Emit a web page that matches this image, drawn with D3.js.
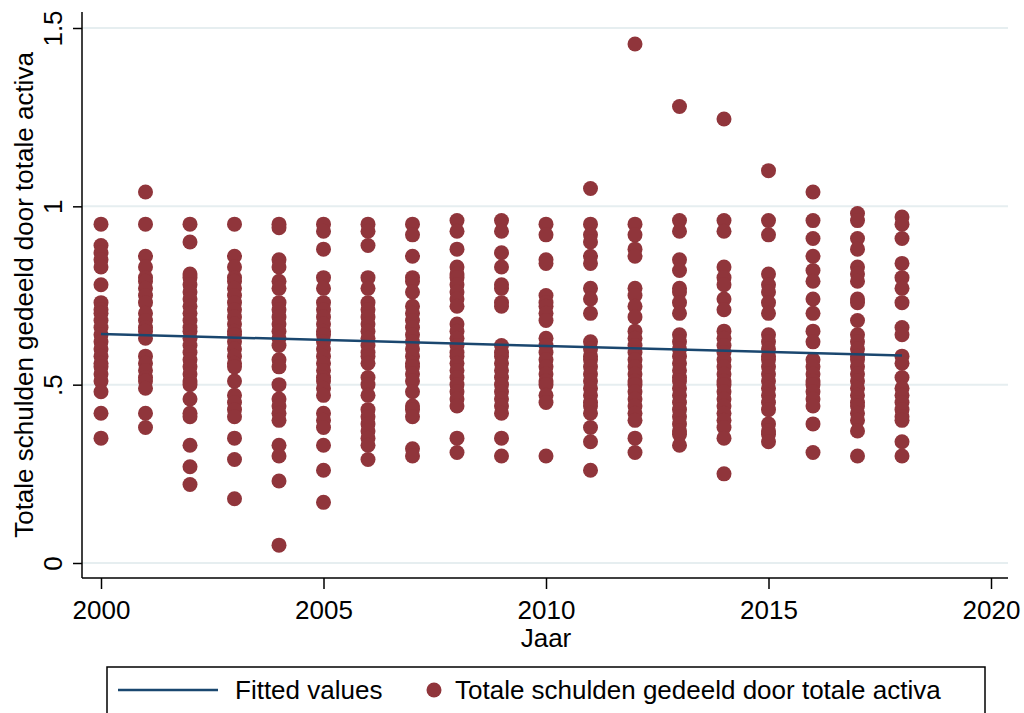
<!DOCTYPE html>
<html>
<head>
<meta charset="utf-8">
<script src="https://cdn.jsdelivr.net/npm/d3@7"></script>
<style>
  html, body { margin: 0; padding: 0; background: #fff; }
  svg { display: block; font-family: "Liberation Sans", Arial, sans-serif; }
</style>
</head>
<body>
<svg id="chart" width="1024" height="713"></svg>
<script>
// Firm-level debt ratio (total debt / total assets) per year
const years = [2000, 2001, 2002, 2003, 2004, 2005, 2006, 2007, 2008, 2009,
               2010, 2011, 2012, 2013, 2014, 2015, 2016, 2017, 2018];

const ratioByYear = [
  [0.95, 0.89, 0.87, 0.85, 0.83, 0.78, 0.73, 0.71, 0.70, 0.68, 0.66, 0.64, 0.62, 0.60, 0.58, 0.56, 0.55, 0.53, 0.51, 0.48, 0.42, 0.35],
  [1.04, 0.95, 0.86, 0.83, 0.80, 0.79, 0.77, 0.75, 0.73, 0.70, 0.68, 0.66, 0.65, 0.63, 0.58, 0.56, 0.54, 0.52, 0.51, 0.49, 0.42, 0.38],
  [0.95, 0.90, 0.81, 0.80, 0.78, 0.76, 0.74, 0.72, 0.70, 0.68, 0.66, 0.65, 0.63, 0.61, 0.59, 0.57, 0.55, 0.53, 0.51, 0.50, 0.46, 0.42, 0.41, 0.33, 0.27, 0.22],
  [0.95, 0.86, 0.83, 0.80, 0.79, 0.77, 0.75, 0.73, 0.71, 0.69, 0.67, 0.65, 0.64, 0.62, 0.60, 0.58, 0.56, 0.55, 0.51, 0.47, 0.45, 0.43, 0.41, 0.35, 0.29, 0.18],
  [0.95, 0.94, 0.85, 0.83, 0.79, 0.77, 0.73, 0.71, 0.69, 0.67, 0.65, 0.63, 0.61, 0.57, 0.55, 0.50, 0.46, 0.44, 0.42, 0.40, 0.33, 0.30, 0.23, 0.05],
  [0.95, 0.93, 0.88, 0.80, 0.77, 0.73, 0.71, 0.69, 0.67, 0.65, 0.64, 0.62, 0.60, 0.58, 0.56, 0.54, 0.52, 0.51, 0.49, 0.47, 0.42, 0.40, 0.38, 0.33, 0.26, 0.17],
  [0.95, 0.93, 0.89, 0.80, 0.77, 0.73, 0.71, 0.69, 0.67, 0.65, 0.63, 0.61, 0.59, 0.58, 0.56, 0.52, 0.50, 0.47, 0.43, 0.41, 0.39, 0.37, 0.35, 0.33, 0.29],
  [0.95, 0.92, 0.86, 0.80, 0.79, 0.76, 0.72, 0.70, 0.68, 0.66, 0.64, 0.62, 0.60, 0.58, 0.56, 0.55, 0.53, 0.51, 0.48, 0.44, 0.43, 0.41, 0.32, 0.30],
  [0.96, 0.93, 0.88, 0.83, 0.81, 0.80, 0.78, 0.76, 0.74, 0.72, 0.67, 0.65, 0.63, 0.61, 0.59, 0.58, 0.56, 0.54, 0.52, 0.50, 0.48, 0.46, 0.44, 0.35, 0.31],
  [0.96, 0.93, 0.87, 0.83, 0.78, 0.77, 0.73, 0.72, 0.61, 0.59, 0.58, 0.56, 0.54, 0.52, 0.50, 0.48, 0.46, 0.44, 0.42, 0.35, 0.30],
  [0.95, 0.92, 0.85, 0.84, 0.75, 0.73, 0.72, 0.70, 0.68, 0.63, 0.61, 0.59, 0.57, 0.55, 0.53, 0.51, 0.50, 0.47, 0.45, 0.30],
  [1.05, 0.95, 0.92, 0.90, 0.86, 0.84, 0.77, 0.74, 0.70, 0.62, 0.60, 0.58, 0.57, 0.55, 0.53, 0.51, 0.49, 0.47, 0.45, 0.44, 0.42, 0.38, 0.34, 0.26],
  [1.455, 0.95, 0.92, 0.88, 0.86, 0.77, 0.75, 0.72, 0.69, 0.65, 0.63, 0.61, 0.59, 0.57, 0.55, 0.53, 0.51, 0.50, 0.48, 0.46, 0.44, 0.42, 0.40, 0.35, 0.31],
  [1.28, 0.96, 0.93, 0.85, 0.82, 0.77, 0.76, 0.73, 0.70, 0.64, 0.62, 0.60, 0.58, 0.56, 0.54, 0.52, 0.51, 0.49, 0.47, 0.45, 0.43, 0.41, 0.39, 0.37, 0.36, 0.33],
  [1.245, 0.96, 0.93, 0.83, 0.80, 0.78, 0.74, 0.71, 0.65, 0.63, 0.61, 0.59, 0.57, 0.55, 0.53, 0.51, 0.50, 0.48, 0.46, 0.44, 0.42, 0.40, 0.38, 0.35, 0.25],
  [1.10, 0.96, 0.92, 0.81, 0.78, 0.76, 0.73, 0.70, 0.64, 0.62, 0.60, 0.58, 0.57, 0.55, 0.53, 0.51, 0.49, 0.47, 0.45, 0.43, 0.39, 0.37, 0.36, 0.34],
  [1.04, 0.96, 0.91, 0.86, 0.82, 0.79, 0.74, 0.70, 0.65, 0.62, 0.57, 0.55, 0.53, 0.51, 0.50, 0.48, 0.46, 0.44, 0.39, 0.31],
  [0.98, 0.96, 0.91, 0.88, 0.83, 0.81, 0.79, 0.74, 0.73, 0.68, 0.64, 0.62, 0.60, 0.58, 0.57, 0.55, 0.53, 0.51, 0.49, 0.47, 0.45, 0.44, 0.42, 0.40, 0.37, 0.30],
  [0.97, 0.95, 0.91, 0.84, 0.80, 0.77, 0.73, 0.66, 0.64, 0.58, 0.56, 0.52, 0.49, 0.47, 0.45, 0.43, 0.41, 0.40, 0.34, 0.30]
];

// Linear fit over the observed year range
const fitYears = [2000, 2018];
const fitValues = [0.642, 0.582];

const xTicks = [2000, 2005, 2010, 2015, 2020];
const yTicks = [0, 0.5, 1, 1.5];
const yTickLabels = ["0", ".5", "1", "1.5"];

const xTitle = "Jaar";
const yTitle = "Totale schulden gedeeld door totale activa";
const legendLabels = ["Fitted values", "Totale schulden gedeeld door totale activa"];

const lineColor = "#1a476f";
const dotColor = "#90353b";
const gridColor = "#e6eef0";

const svg = d3.select("#chart");

const x = d3.scaleLinear().domain([2000, 2020]).range([101, 991]);
const y = d3.scaleLinear().domain([0, 1.5]).range([563, 28]);

const frame = { left: 82, right: 1008, top: 12, bottom: 578 };

// Horizontal gridlines
svg.append("g")
  .selectAll("line")
  .data(yTicks)
  .join("line")
  .attr("x1", frame.left).attr("x2", frame.right)
  .attr("y1", d => y(d)).attr("y2", d => y(d))
  .attr("stroke", gridColor)
  .attr("stroke-width", 2);

// Scatter points
const points = [];
years.forEach((yr, i) => ratioByYear[i].forEach(v => points.push({ yr, v })));

svg.append("g")
  .selectAll("circle")
  .data(points)
  .join("circle")
  .attr("cx", d => x(d.yr))
  .attr("cy", d => y(d.v))
  .attr("r", 7.5)
  .attr("fill", dotColor);

// Fitted line
const fitData = fitYears.map((yr, i) => ({ yr, v: fitValues[i] }));
svg.append("path")
  .datum(fitData)
  .attr("fill", "none")
  .attr("stroke", lineColor)
  .attr("stroke-width", 2.5)
  .attr("d", d3.line().x(d => x(d.yr)).y(d => y(d.v)));

// Y axis
const yAxis = svg.append("g")
  .attr("transform", `translate(${frame.left},0)`)
  .call(d3.axisLeft(y).tickValues(yTicks).tickSize(9).tickFormat((d, i) => yTickLabels[i]));
yAxis.select(".domain").attr("d", `M0,${frame.top}V${frame.bottom}`).attr("stroke", "#000").attr("stroke-width", 1.5);
yAxis.selectAll(".tick line").attr("stroke", "#000").attr("stroke-width", 1.5);
yAxis.selectAll(".tick text")
  .attr("font-size", 26)
  .attr("fill", "#000")
  .attr("font-family", "Liberation Sans, Arial, sans-serif")
  .attr("text-anchor", "middle")
  .attr("x", null).attr("dy", null)
  .attr("transform", "translate(-20,0) rotate(-90)");

// X axis
const xAxis = svg.append("g")
  .attr("transform", `translate(0,${frame.bottom})`)
  .call(d3.axisBottom(x).tickValues(xTicks).tickSize(11).tickFormat(d3.format("d")));
xAxis.select(".domain").attr("d", `M${frame.left},0H${frame.right}`).attr("stroke", "#000").attr("stroke-width", 1.5);
xAxis.selectAll(".tick line").attr("stroke", "#000").attr("stroke-width", 1.5);
xAxis.selectAll(".tick text")
  .attr("font-size", 26)
  .attr("fill", "#000")
  .attr("font-family", "Liberation Sans, Arial, sans-serif")
  .attr("y", 40.5).attr("dy", null);

// Axis titles
svg.append("text")
  .attr("x", 546).attr("y", 647)
  .attr("text-anchor", "middle")
  .attr("font-size", 26)
  .text(xTitle);

svg.append("text")
  .attr("transform", "translate(33,295) rotate(-90)")
  .attr("text-anchor", "middle")
  .attr("font-size", 26)
  .text(yTitle);

// Legend
const legend = svg.append("g");
legend.append("rect")
  .attr("x", 107).attr("y", 667)
  .attr("width", 878).attr("height", 70)
  .attr("fill", "#fff")
  .attr("stroke", "#000")
  .attr("stroke-width", 1.5);
legend.append("line")
  .attr("x1", 118).attr("x2", 218)
  .attr("y1", 690).attr("y2", 690)
  .attr("stroke", lineColor).attr("stroke-width", 2.5);
legend.append("text")
  .attr("x", 235).attr("y", 699)
  .attr("font-size", 26)
  .text(legendLabels[0]);
legend.append("circle")
  .attr("cx", 434).attr("cy", 690).attr("r", 7.5)
  .attr("fill", dotColor);
legend.append("text")
  .attr("x", 455).attr("y", 699)
  .attr("font-size", 26)
  .text(legendLabels[1]);
</script>
</body>
</html>
